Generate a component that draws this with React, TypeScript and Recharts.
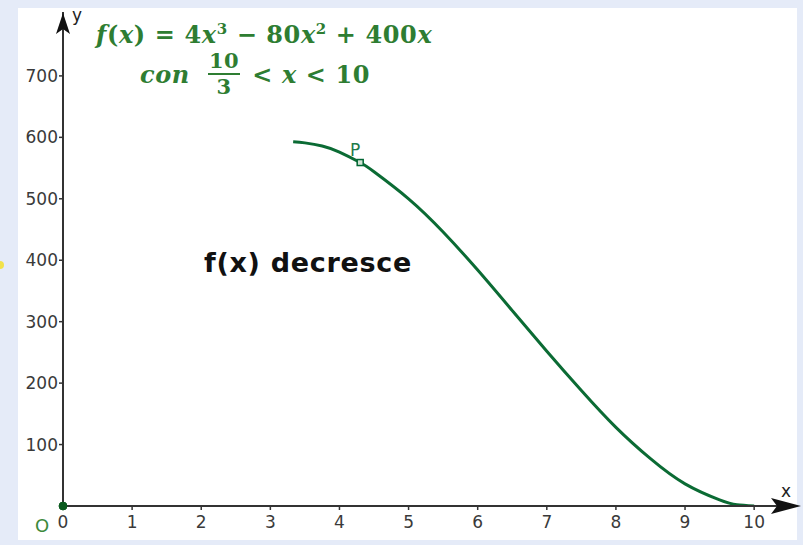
import React from 'react';
import { LineChart, Line, XAxis, YAxis, ReferenceDot } from 'recharts';

const curveX = [3.33, 3.5, 3.75, 4, 4.3, 4.5, 5, 5.5, 6, 6.5, 7, 7.5, 8, 8.5, 9, 9.5, 9.75, 10];
const curveY = [593, 591, 586, 576, 559, 544, 500, 446, 384, 318, 252, 188, 128, 77, 36, 10, 2, 0];

const xTicks = [0, 1, 2, 3, 4, 5, 6, 7, 8, 9, 10];
const yTicks = [100, 200, 300, 400, 500, 600, 700];

const pointP = { x: 4.3, y: 559 };

const X_MAX = 10.62;
const Y_MAX = 804;

const GREEN = '#0b6b34';
const AXIS = '#333';
const FONT = '"DejaVu Sans", sans-serif';
const MATH = '"DejaVu Serif", serif';

const data = curveX.map((x, i) => ({ x, y: curveY[i] }));

const ArrowRight = (props: any) => {
  const { cx, cy } = props;
  const tip = cx + 4;
  return <path d={`M${tip},${cy} L${tip - 30},${cy - 8} L${tip - 24},${cy} L${tip - 30},${cy + 8} Z`} fill="#111" />;
};

const ArrowUp = (props: any) => {
  const { cx, cy } = props;
  const tip = cy + 1;
  return <path d={`M${cx},${tip} L${cx - 7},${tip + 21} L${cx},${tip + 16} L${cx + 7},${tip + 21} Z`} fill="#111" />;
};

const PointP = (props: any) => {
  const { cx, cy } = props;
  return (
    <g>
      <rect x={cx - 3} y={cy - 3} width={6} height={6} fill="#cfe3d3" stroke="#063" strokeWidth={1.5} />
      <text x={cx - 5} y={cy - 7} textAnchor="middle" fill="#1f7a4a" fontSize={17} fontFamily={FONT}>P</text>
    </g>
  );
};

export default function App() {
  return (
    <div style={{ position: 'absolute', left: 0, top: 0, width: 803, height: 545, background: '#e5ebf8', overflow: 'hidden' }}>
      <div style={{ position: 'absolute', left: 18, top: 8, width: 779, height: 532, background: '#fff' }} />
      <div style={{ position: 'absolute', left: -4, top: 261, width: 8, height: 8, borderRadius: 4, background: '#f2e24a' }} />
      <div style={{ position: 'absolute', left: 0, top: 0 }}>
        <LineChart width={803} height={545} data={data} margin={{ top: 12, right: 6, bottom: 9, left: 13 }}>
          <XAxis
            dataKey="x"
            type="number"
            domain={[0, X_MAX]}
            ticks={xTicks}
            allowDataOverflow
            height={30}
            tickSize={4}
            tickMargin={6}
            axisLine={{ stroke: AXIS, strokeWidth: 2 }}
            tickLine={{ stroke: AXIS, strokeWidth: 1.5 }}
            tick={{ fill: '#3a3a3a', fontSize: 17, fontFamily: FONT }}
          />
          <YAxis
            type="number"
            domain={[0, Y_MAX]}
            ticks={yTicks}
            allowDataOverflow
            width={50}
            tickSize={4}
            tickMargin={1}
            axisLine={{ stroke: AXIS, strokeWidth: 2 }}
            tickLine={{ stroke: AXIS, strokeWidth: 1.5 }}
            tick={{ fill: '#3a3a3a', fontSize: 17, fontFamily: FONT }}
          />
          <Line
            dataKey="y"
            type="natural"
            stroke={GREEN}
            strokeWidth={3}
            dot={false}
            activeDot={false}
            isAnimationActive={false}
          />
          <ReferenceDot x={X_MAX} y={0} ifOverflow="visible" shape={ArrowRight} />
          <ReferenceDot x={0} y={Y_MAX} ifOverflow="visible" shape={ArrowUp} />
          <ReferenceDot x={0} y={0} r={4} fill="#0a5a1e" stroke="#0a5a1e" ifOverflow="visible" />
          <ReferenceDot x={pointP.x} y={pointP.y} ifOverflow="visible" shape={PointP} />
        </LineChart>
      </div>
      <div style={{ position: 'absolute', left: 781, top: 481, fontSize: 17, fontFamily: FONT, color: '#222' }}>x</div>
      <div style={{ position: 'absolute', left: 72, top: 5, fontSize: 17, fontFamily: FONT, color: '#222' }}>y</div>
      <div style={{ position: 'absolute', left: 35, top: 515, fontSize: 18, fontFamily: FONT, color: '#3c8a3c' }}>O</div>
      <div style={{ position: 'absolute', left: 204, top: 247, fontSize: 27, fontWeight: 'bold', fontFamily: FONT, color: '#111', letterSpacing: 0.7 }}>f(x) decresce</div>
      <div style={{ position: 'absolute', left: 96, top: 20, fontSize: 24, fontWeight: 'bold', fontFamily: MATH, color: '#2e7d32', whiteSpace: 'nowrap', letterSpacing: 0.6 }}>
        <i>f</i>(<i>x</i>) = 4<i>x</i><sup style={{ fontSize: 15 }}>3</sup> − 80<i>x</i><sup style={{ fontSize: 15 }}>2</sup> + 400<i>x</i>
      </div>
      <div style={{ position: 'absolute', left: 140, top: 50, display: 'flex', alignItems: 'center', fontSize: 24, fontWeight: 'bold', fontFamily: MATH, color: '#2e7d32', whiteSpace: 'nowrap', letterSpacing: 0.6 }}>
        <i>con</i>
        <span style={{ display: 'inline-flex', flexDirection: 'column', alignItems: 'center', margin: '0 12px 0 18px', fontSize: 21, lineHeight: '22px' }}>
          <span style={{ borderBottom: '2px solid #2e7d32', padding: '0 1px 1px' }}>10</span>
          <span style={{ paddingTop: 1 }}>3</span>
        </span>
        <span>&lt; <i>x</i> &lt; 10</span>
      </div>
    </div>
  );
}
